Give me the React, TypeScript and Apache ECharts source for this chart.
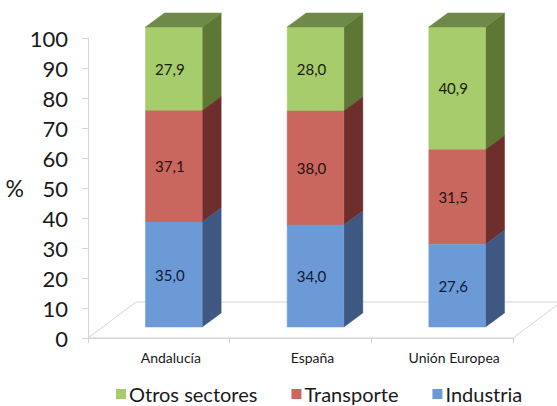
import React, { useEffect, useRef } from "react";
import * as echarts from "echarts";

const categories = ["Andalucía", "España", "Unión Europea"];
const industria = [35.0, 34.0, 27.6];
const transporte = [37.1, 38.0, 31.5];
const otros = [27.9, 28.0, 40.9];
const seriesNames = ["Otros sectores", "Transporte", "Industria"];
const yMin = 0;
const yMax = 100;
const yInterval = 10;

const FONT = "Lato, 'DejaVu Sans', sans-serif";

const colors = {
  otros: { front: "#a7cc6c", side: "#5e7735", top: "#6f8948", text: "#18200c" },
  transporte: { front: "#c9675f", side: "#6e2e2b", top: "#7a3330", text: "#2a0f0e" },
  industria: { front: "#6b9ad6", side: "#3f5882", top: "#4a6590", text: "#0e1a36" },
};

const GRID = { left: 88, right: 44, top: 38, bottom: 68 };
const W = 557;
const H = 406;

function fmt(v: number) {
  return v.toFixed(1).replace(".", ",");
}

function buildData(vals: number[], bases: number[]) {
  return vals.map((v, i) => [i, bases[i], bases[i] + v, v]);
}

function makeRender(c: { front: string; side: string; top: string; text: string }, isTop: boolean) {
  return (params: any, api: any) => {
    const idx = api.value(0);
    const base = api.value(1);
    const top = api.value(2);
    const val = api.value(3);
    const p0 = api.coord([idx, base]);
    const p1 = api.coord([idx, top]);
    const bw = api.size([1, 0])[0] * 0.4;
    const ox = 15;
    const oy = -11;
    const dx = 19;
    const dy = -14;
    const cx = p0[0] + ox;
    const x0 = cx - bw / 2;
    const x1 = cx + bw / 2;
    const yb = p0[1] + oy;
    const yt = p1[1] + oy;
    const children: any[] = [
      {
        type: "polygon",
        shape: { points: [[x1, yb], [x1 + dx, yb + dy], [x1 + dx, yt + dy], [x1, yt]] },
        style: { fill: c.side, stroke: c.side, lineWidth: 0.5 },
      },
      {
        type: "rect",
        shape: { x: x0, y: yt, width: bw, height: yb - yt },
        style: { fill: c.front, stroke: c.front, lineWidth: 0.5 },
      },
    ];
    if (isTop) {
      children.push({
        type: "polygon",
        shape: { points: [[x0, yt], [x0 + dx, yt + dy], [x1 + dx, yt + dy], [x1, yt]] },
        style: { fill: c.top, stroke: c.top, lineWidth: 0.5 },
      });
    }
    children.push({
      type: "text",
      x: cx - 4,
      y: (yb + yt) / 2,
      style: {
        text: fmt(val),
        fill: c.text,
        font: `15px ${FONT}`,
        align: "center",
        verticalAlign: "middle",
      },
    });
    return { type: "group", children };
  };
}

export default function App() {
  const ref = useRef<HTMLDivElement>(null);
  useEffect(() => {
    if (!ref.current) return;
    const chart = echarts.init(ref.current, undefined, { renderer: "svg" });
    const baseInd = categories.map(() => 0);
    const baseTr = industria.map((v) => v);
    const baseOt = industria.map((v, i) => v + transporte[i]);

    const x0 = GRID.left;
    const x1 = W - GRID.right;
    const yf = H - GRID.bottom;
    const fdx = 48;
    const fdy = -36;

    const option: any = {
      animation: false,
      backgroundColor: "#ffffff",
      grid: { ...GRID, containLabel: false },
      legend: {
        data: seriesNames,
        left: 116,
        top: 384,
        padding: 0,
        icon: "rect",
        itemWidth: 10,
        itemHeight: 10,
        itemGap: 34,
        textStyle: {
          fontFamily: FONT,
          fontSize: 20,
          lineHeight: 20,
          color: "#1a1a1a",
          padding: [0, 0, 0, -2],
        },
      },
      graphic: [
        {
          type: "polygon",
          z: 0,
          shape: {
            points: [
              [x0, yf],
              [x1, yf],
              [x1 + fdx, yf + fdy],
              [x0 + fdx, yf + fdy],
            ],
          },
          style: { fill: "#ffffff", stroke: "#d4d4d4", lineWidth: 1 },
        },
      ],
      xAxis: {
        type: "category",
        data: categories,
        axisLine: { show: true, lineStyle: { color: "#d4d4d4", width: 1 } },
        axisTick: { show: true, length: 5, lineStyle: { color: "#d4d4d4" } },
        axisLabel: {
          fontFamily: FONT,
          fontSize: 14,
          color: "#1a1a1a",
          margin: 12,
          padding: [0, 0, 0, 24],
        },
        splitLine: { show: false },
      },
      yAxis: {
        type: "value",
        min: yMin,
        max: yMax,
        interval: yInterval,
        name: "%",
        nameLocation: "middle",
        nameRotate: 0,
        nameGap: 60,
        nameTextStyle: { fontFamily: FONT, fontSize: 23, color: "#1a1a1a" },
        axisLine: { show: true, lineStyle: { color: "#d4d4d4", width: 1 } },
        axisTick: { show: true, length: 6, lineStyle: { color: "#d4d4d4" } },
        axisLabel: { fontFamily: FONT, fontSize: 22, color: "#1a1a1a", margin: 20 },
        splitLine: { show: false },
      },
      series: [
        {
          name: "Otros sectores",
          type: "custom",
          itemStyle: { color: colors.otros.front },
          renderItem: makeRender(colors.otros, true),
          encode: { x: 0, y: [1, 2] },
          data: buildData(otros, baseOt),
          z: 3,
        },
        {
          name: "Transporte",
          type: "custom",
          itemStyle: { color: colors.transporte.front },
          renderItem: makeRender(colors.transporte, false),
          encode: { x: 0, y: [1, 2] },
          data: buildData(transporte, baseTr),
          z: 3,
        },
        {
          name: "Industria",
          type: "custom",
          itemStyle: { color: colors.industria.front },
          renderItem: makeRender(colors.industria, false),
          encode: { x: 0, y: [1, 2] },
          data: buildData(industria, baseInd),
          z: 3,
        },
      ],
    };
    chart.setOption(option);
    return () => chart.dispose();
  }, []);
  return (
    <div
      ref={ref}
      style={{ position: "fixed", left: 0, top: 0, width: W, height: H, background: "#fff" }}
    />
  );
}
